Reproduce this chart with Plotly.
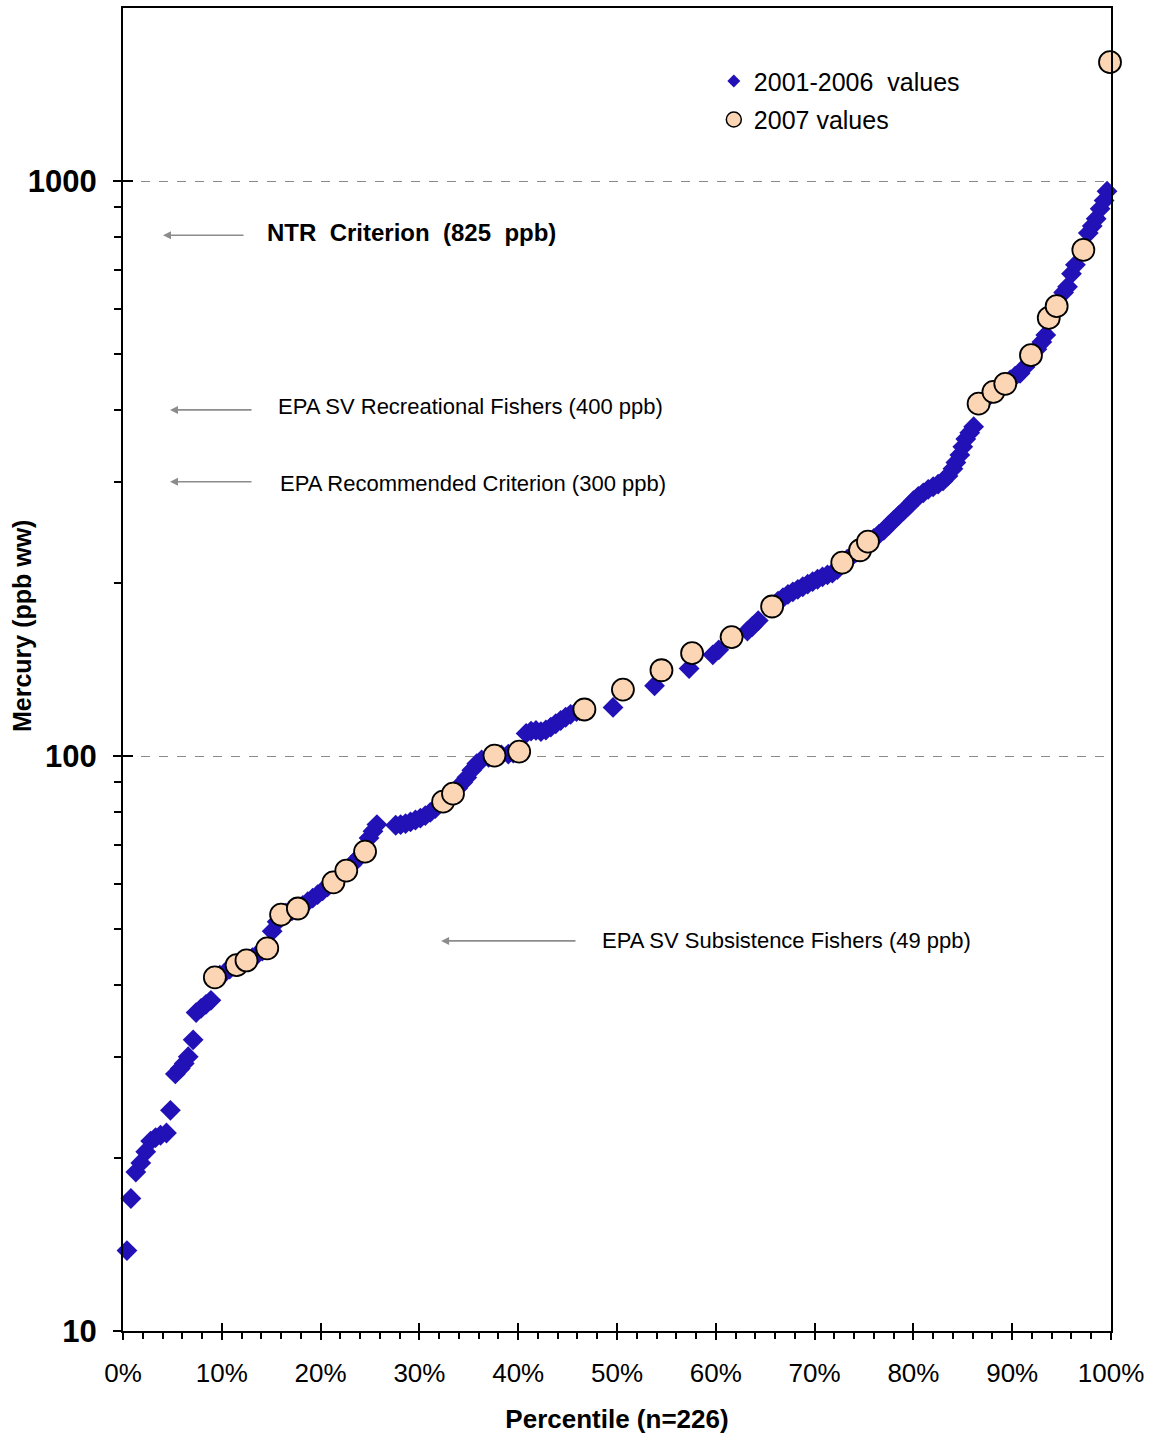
import math
import plotly.graph_objects as go

# ---------------- data ----------------
pct_2001_2006 = [
    0.4, 0.8, 1.3, 1.8, 2.3, 2.8, 3.3, 3.8, 4.4, 4.8, 5.3, 5.8, 6.2, 6.6, 7.1, 7.4, 7.9, 8.4, 8.9,
    9.8, 10.3, 10.8, 11.9, 13.1, 13.6, 14.1, 15.1, 15.6,
    16.5, 17.1, 18.2, 18.7, 19.2, 19.7, 20.2, 20.7, 21.8, 22.2, 23.1, 23.6, 24.0,
    24.9, 25.3, 25.7, 27.6, 28.1, 28.6, 29.1, 29.6, 30.1, 30.6, 31.1, 31.6,
    32.9, 33.9, 34.4, 34.8, 35.3, 35.8, 36.3, 37.0, 38.3, 39.0, 39.5,
    40.8, 41.3, 41.8, 42.3, 42.8, 43.3, 43.8, 44.3, 44.8, 45.3, 45.9, 46.2,
    49.6, 53.8, 57.3, 59.7, 60.3, 63.2, 63.7, 64.3,
    66.3, 66.8, 67.3, 67.8, 68.3, 68.8, 69.3, 69.8, 70.3, 70.8, 71.3, 71.8, 72.3,
    73.3, 73.8, 74.2, 74.9,
    76.0, 76.5, 77.0, 77.5, 78.0, 78.5, 79.0, 79.5, 80.0, 80.5, 81.0, 81.5, 82.0, 82.5,
    83.0, 83.5, 84.0, 84.3, 84.7, 85.0, 85.3, 85.7, 86.1,
    87.1, 87.6, 88.6, 89.8, 90.3, 90.8, 91.3, 92.5, 93.0, 93.4,
    95.2, 95.6, 96.0, 96.4, 97.7, 98.1, 98.5, 98.9, 99.3, 99.6,
]
hg_2001_2006 = [
    13.8, 17.0, 18.9, 19.6, 20.5, 21.4, 21.7, 21.9, 22.1, 24.2, 28.0, 28.6, 29.2, 30.0, 32.1, 35.8, 36.4, 37.0, 37.6,
    41.6, 42.0, 42.6, 43.6, 44.6, 45.2, 45.8, 49.6, 51.5,
    53.3, 53.8, 55.0, 55.8, 56.6, 57.4, 58.3, 59.2, 61.5, 62.3, 64.6, 65.9, 67.0,
    72.0, 74.0, 76.0, 75.8, 76.0, 76.3, 76.8, 77.4, 78.0, 78.8, 79.8, 81.0,
    84.5, 88.0, 90.0, 91.8, 94.5, 97.0, 98.5, 99.5, 100.5, 100.8, 101.2,
    109.5, 110.5, 110.8, 110.3, 111.0, 112.3, 113.8, 115.3, 116.8, 118.2, 119.5, 120.0,
    121.5, 132.5, 142.0, 150.0, 153.0, 165.0, 168.0, 172.0,
    186.0, 188.5, 191.0, 193.0, 195.0, 197.0, 199.0, 201.0, 203.0, 205.0, 206.5, 208.0, 211.0,
    220.0, 223.0, 226.0, 232.0,
    239.0, 243.0, 247.0, 252.0, 257.0, 262.0, 267.0, 272.0, 278.0, 283.0, 287.0, 291.0, 294.0, 297.0,
    301.0, 307.0, 316.0, 324.0, 334.0, 345.0, 356.0, 365.0, 374.0,
    415.0, 422.0, 436.0, 451.0, 458.0, 463.0, 475.0, 510.0, 525.0, 540.0,
    640.0, 655.0, 690.0, 715.0, 812.0, 835.0, 860.0, 895.0, 925.0, 960.0,
]

pct_2007 = [
    9.3, 11.5, 12.5, 14.6, 16.0, 17.7, 21.3, 22.6, 24.5, 32.4, 33.4, 37.6, 40.1,
    46.7, 50.6, 54.5, 57.6, 61.6, 65.7, 72.8, 74.6, 75.4, 86.6, 88.1, 89.3,
    91.9, 93.7, 94.5, 97.2, 99.9,
]
hg_2007 = [
    41.2, 43.3, 44.1, 46.3, 53.0, 54.3, 60.3, 63.2, 68.2, 83.3, 86.0, 100.2, 101.8,
    120.5, 130.5, 141.0, 151.0, 161.0, 182.0, 217.0, 228.0, 236.0, 410.0, 430.0, 444.0,
    498.0, 578.0, 606.0, 759.0, 1610.0,
]

x_ticks = [0, 10, 20, 30, 40, 50, 60, 70, 80, 90, 100]
x_ticktext = ["0%", "10%", "20%", "30%", "40%", "50%", "60%", "70%", "80%", "90%", "100%"]
y_ticks = [10, 100, 1000]
y_ticktext = ["10", "100", "1000"]
y_minor = [20, 30, 40, 50, 60, 70, 80, 90, 200, 300, 400, 500, 600, 700, 800, 900]

NB = "\u00a0"
criteria_labels = [
    f"<b>NTR{NB} Criterion{NB} (825{NB} ppb)</b>",
    "EPA SV Recreational Fishers (400 ppb)",
    "EPA Recommended Criterion (300 ppb)",
    "EPA SV Subsistence Fishers (49 ppb)",
]

# ---------------- styling ----------------
FONT = "Liberation Sans, Arial, Helvetica, sans-serif"
DIAMOND = "#2211B6"
PEACH = "#FBD5B4"
ARROW = "#8C8C8C"
Y_TOP = 2000

fig = go.Figure()

fig.add_trace(go.Scatter(
    x=pct_2001_2006, y=hg_2001_2006, mode="markers", showlegend=False,
    marker=dict(symbol="diamond", size=16, color=DIAMOND, line=dict(width=0)),
    cliponaxis=False, hoverinfo="x+y",
))
fig.add_trace(go.Scatter(
    x=pct_2007, y=hg_2007, mode="markers", showlegend=False,
    marker=dict(symbol="circle", size=22, color=PEACH, line=dict(color="black", width=1.8)),
    cliponaxis=False, hoverinfo="x+y",
))
# legend entries
fig.add_trace(go.Scatter(
    x=[None], y=[None], mode="markers", name=f"2001-2006{NB}{NB}values",
    legendgroup="a", marker=dict(symbol="diamond", size=10, color=DIAMOND),
))
fig.add_trace(go.Scatter(
    x=[None], y=[None], mode="markers", name="2007 values",
    legendgroup="b", marker=dict(symbol="circle", size=15, color=PEACH,
                                  line=dict(color="black", width=1.5)),
))
# carrier for overlay axes (inner half of the major ticks)
fig.add_trace(go.Scatter(x=[None], y=[None], xaxis="x2", yaxis="y2",
                         showlegend=False, hoverinfo="skip"))

axis_common = dict(showline=True, linecolor="black", linewidth=2, zeroline=False)

fig.update_layout(
    width=1159, height=1437,
    margin=dict(l=123, r=48, t=6, b=106),
    paper_bgcolor="white", plot_bgcolor="white",
    font=dict(family=FONT, color="black"),
    xaxis=dict(
        **axis_common, mirror=True, range=[0, 100],
        tickmode="array", tickvals=x_ticks, ticktext=x_ticktext,
        ticks="outside", ticklen=7, tickwidth=2, tickcolor="black",
        tickfont=dict(size=26, family=FONT), ticklabelstandoff=11,
        showgrid=False,
        minor=dict(dtick=2, ticks="outside", ticklen=6, tickwidth=1.5,
                   tickcolor="black", showgrid=False),
        title=dict(text="<b>Percentile (n=226)</b>", font=dict(size=26, family=FONT),
                   standoff=23),
    ),
    yaxis=dict(
        **axis_common, mirror=True, type="log", range=[1, math.log10(Y_TOP)],
        tickmode="array", tickvals=y_ticks, ticktext=y_ticktext,
        ticks="outside", ticklen=8, tickwidth=2, tickcolor="black",
        tickfont=dict(size=31, family=FONT, weight="bold"), ticklabelstandoff=10,
        showgrid=True, gridcolor="#8A8A8A", gridwidth=1, griddash="dash",
        minor=dict(tickvals=y_minor, ticks="outside", ticklen=7, tickwidth=1.5,
                   tickcolor="black", showgrid=False),
    ),
    xaxis2=dict(overlaying="x", anchor="y2", side="bottom", range=[0, 100],
                tickmode="array", tickvals=x_ticks, ticks="inside", ticklen=8,
                tickwidth=2, tickcolor="black", showticklabels=False,
                showgrid=False, zeroline=False, showline=False),
    yaxis2=dict(overlaying="y", anchor="x2", side="left", type="log",
                range=[1, math.log10(Y_TOP)], tickmode="array", tickvals=y_ticks,
                ticks="inside", ticklen=10, tickwidth=2, tickcolor="black",
                showticklabels=False, showgrid=False, zeroline=False, showline=False),
    legend=dict(
        x=0.598, y=0.962, xanchor="left", yanchor="top",
        font=dict(size=25, family=FONT), bgcolor="rgba(0,0,0,0)",
        borderwidth=0, traceorder="grouped", tracegroupgap=3,
        itemwidth=30,
    ),
)

# y-axis title as rotated text
fig.add_annotation(
    text="<b>Mercury (ppb ww)</b>", xref="paper", yref="paper",
    x=(22 - 123) / 988, y=1 - (625 - 6) / 1325,
    textangle=-90, showarrow=False, font=dict(size=25, family=FONT),
    xanchor="center", yanchor="middle",
)

# criterion arrows (head at left) and their labels
arrow_levels = [805, 400, 300, 47.7]
arrow_heads = [4.05, 4.76, 4.76, 32.2]
arrow_tails = [12.35, 13.16, 13.16, 45.95]
label_x = [14.4, 15.5, 15.7, 48.3]
label_levels = [815, 406, 298, 47.7]
label_sizes = [24, 22, 22, 22]

for lvl, hx, tx in zip(arrow_levels, arrow_heads, arrow_tails):
    fig.add_annotation(
        x=hx, y=math.log10(lvl), ax=tx, ay=math.log10(lvl),
        xref="x", yref="y", axref="x", ayref="y",
        text="", showarrow=True, arrowhead=2, arrowsize=1, arrowwidth=1.6,
        arrowcolor=ARROW, standoff=0, startstandoff=0,
    )
for txt, lx, lvl, fs in zip(criteria_labels, label_x, label_levels, label_sizes):
    fig.add_annotation(
        x=lx, y=math.log10(lvl), xref="x", yref="y", text=txt, showarrow=False,
        xanchor="left", yanchor="middle", font=dict(size=fs, family=FONT),
    )

fig.write_html("out.html", config={"displayModeBar": False},
               post_script="document.body.style.margin='0';")
